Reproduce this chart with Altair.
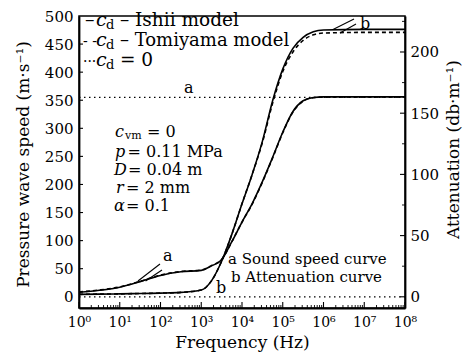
import json
import altair as alt
import pandas as pd

FONT = "DejaVu Serif"

# ---------------- data ----------------
freq = [1, 3.162, 10, 31.62, 100, 316.2, 1000, 1778, 3162, 5623, 10000, 17780,
        31620, 56230, 100000, 177800, 316200, 562300, 1000000, 10000000, 100000000]
speed_ishii = [8, 11.5, 17, 27, 38, 44.5, 47, 55, 66, 98, 133, 166, 205, 248, 293,
               330, 349, 355, 356, 356, 356]
speed_tomiyama = [8.5, 12, 17.5, 27.5, 38.5, 45, 47.5, 55.5, 66.5, 98, 133, 165, 204,
                  247, 292, 329, 348.5, 354.5, 355.5, 356, 356]
att_ishii = [2.0, 2.2, 2.4, 2.7, 3.0, 3.6, 5.5, 13, 29, 51, 76, 100, 127, 160, 186,
             203, 212, 216.5, 218, 218.5, 218.5]
att_tomiyama = [2.0, 2.2, 2.4, 2.7, 3.0, 3.6, 5.5, 13, 29, 51, 76, 100, 126, 158, 184,
                200, 209.5, 214, 215.5, 216, 216]
cd0_freq = [1, 100000000]
cd0_speed = [355, 355]
cd0_att = [0, 0]

x_tick_values = [1, 10, 100, 1000, 10000, 100000, 1000000, 10000000, 100000000]
x_tick_labels = ["10⁰", "10¹", "10²", "10³", "10⁴", "10⁵", "10⁶", "10⁷", "10⁸"]
x_minor_ticks = [m * 10 ** d for d in range(8) for m in range(2, 10)]
y_left_ticks = [0, 50, 100, 150, 200, 250, 300, 350, 400, 450, 500]
y_right_ticks = [0, 50, 100, 150, 200]
y_right_minor = [25, 75, 125, 175, 225]

# annotation texts (anchor in data units: frequency, speed)
ann_text = ["–", "– Ishii model", "- -", "– Tomiyama model", "···", "= 0",
            "d", "d", "d",
            "vm", "= 0", "= 0.11 MPa", "= 0.04 m", "= 2 mm", "= 0.1",
            "a", "a", "b", "b", "a Sound speed curve", "b Attenuation curve"]
ann_f = [1.40, 10.1, 1.25, 10.1, 1.25, 10.1,
         4.60, 4.60, 4.60,
         13.5, 46.6, 15.5, 15.9, 14.2, 14.2,
         377, 115, 2301, 7.87e6, 4530, 5370]
ann_v = [482.3, 482.3, 446.7, 446.7, 411.0, 411.0,
         476.9, 441.3, 405.7,
         281.0, 284.5, 249.0, 216.9, 184.9, 152.8,
         363.0, 63.8, 6.8, 476.9, 58.3, 25.9]
ann_size = [19, 18.5, 14, 18, 14, 18.5,
            13, 13, 13,
            11, 16, 16, 16, 16, 16,
            16, 16, 16, 16, 15, 15]

ital_text = ["c", "c", "c", "c", "p", "D", "r", "α"]
ital_f = [2.61, 2.61, 2.61, 7.65, 7.65, 7.23, 8.09, 7.23]
ital_v = [482.3, 446.7, 411.0, 284.5, 249.0, 216.9, 184.9, 152.8]
ital_size = [19, 19, 19, 16, 16, 16, 16, 16]

lead_f = [28.0, 43.0, 1.71e6, 2.54e6]
lead_v = [28.1, 28.1, 476.0, 469.8]
lead_f2 = [97.2, 108.8, 5.6e6, 6.28e6]
lead_v2 = [58.4, 47.7, 494.7, 485.8]

# ---------------- scales / axes ----------------
label_expr = json.dumps(x_tick_labels, ensure_ascii=False) + "[round(log(datum.value)/LN10)]"
common_axis = dict(ticks=False, grid=False, labelFont=FONT, labelColor="black",
                   domainColor="black", domainWidth=1.8, titleFont=FONT,
                   titleFontWeight="normal", titleColor="black", labelOverlap=False)

xscale = alt.Scale(type="log", domain=[1, 1e8], nice=False)
xaxis = alt.Axis(values=x_tick_values, labelExpr=label_expr, title="Frequency (Hz)",
                 labelFontSize=14, labelPadding=7, labelFlush=False,
                 titleFontSize=17, titleX=163, titleY=39, titleBaseline="alphabetic",
                 titleAlign="center", **common_axis)
yl_scale = alt.Scale(domain=[-20, 500], nice=False, zero=False)
yl_axis = alt.Axis(values=y_left_ticks, title="Pressure wave speed (m·s⁻¹)", orient="left",
                   labelFontSize=15, labelPadding=6, titleFontSize=17, titleAngle=270,
                   titleX=-51, titleY=148, titleBaseline="alphabetic", titleAlign="center",
                   **common_axis)
yr_scale = alt.Scale(domain=[-9.15, 229.4], nice=False, zero=False)
yr_axis = alt.Axis(values=y_right_ticks, title="Attenuation (db·m⁻¹)", orient="right",
                   labelFontSize=15, labelPadding=5, titleFontSize=17, titleAngle=270,
                   titleX=53, titleY=133, titleBaseline="alphabetic", titleAlign="center",
                   **common_axis)

X = alt.X("f:Q", scale=xscale, axis=xaxis)


def YL(field):
    return alt.Y(f"{field}:Q", scale=yl_scale, axis=yl_axis)


def YR(field):
    return alt.Y(f"{field}:Q", scale=yr_scale, axis=yr_axis)


curves = pd.DataFrame({"f": freq, "si": speed_ishii, "st": speed_tomiyama,
                       "ai": att_ishii, "at": att_tomiyama})
cd0 = pd.DataFrame({"f": cd0_freq, "v": cd0_speed, "db": cd0_att})
ann = pd.DataFrame({"t": ann_text, "f": ann_f, "v": ann_v, "s": ann_size})
ital = pd.DataFrame({"t": ital_text, "f": ital_f, "v": ital_v, "s": ital_size})
lead = pd.DataFrame({"f": lead_f, "v": lead_v, "f2": lead_f2, "v2": lead_v2})
xmaj = pd.DataFrame({"f": x_tick_values})
xmin = pd.DataFrame({"f": x_minor_ticks})
ylt = pd.DataFrame({"v": y_left_ticks[1:-1]})
yrt = pd.DataFrame({"db": y_right_ticks})
yrm = pd.DataFrame({"db": y_right_minor})

LW = 1.6
# ---- left (speed) group ----
sp_dot = alt.Chart(cd0).mark_line(color="black", strokeWidth=1.3, strokeDash=[1.5, 3.5]).encode(x=X, y=YL("v"))
sp_solid = alt.Chart(curves).mark_line(color="black", strokeWidth=LW, interpolate="monotone").encode(x=X, y=YL("si"))
sp_dash = alt.Chart(curves).mark_line(color="black", strokeWidth=LW, interpolate="monotone", strokeDash=[4, 3]).encode(x=X, y=YL("st"))
leaders = alt.Chart(lead).mark_rule(color="black", strokeWidth=1.1).encode(x=X, x2="f2:Q", y=YL("v"), y2="v2:Q")
txt = alt.Chart(ann).mark_text(font=FONT, align="left", baseline="alphabetic", color="black").encode(
    x=X, y=YL("v"), text="t:N", size=alt.Size("s:Q", scale=None, legend=None))
txt_i = alt.Chart(ital).mark_text(font=FONT, fontStyle="italic", align="left", baseline="alphabetic", color="black").encode(
    x=X, y=YL("v"), text="t:N", size=alt.Size("s:Q", scale=None, legend=None))
xt_major = alt.Chart(xmaj).mark_rule(color="black", strokeWidth=1.1).encode(x=X, y=alt.value(292), y2=alt.value(286))
xt_minor = alt.Chart(xmin).mark_rule(color="black", strokeWidth=0.9).encode(x=X, y=alt.value(292), y2=alt.value(289))
yl_ticks = alt.Chart(ylt).mark_rule(color="black", strokeWidth=1.1).encode(y=YL("v"), x=alt.value(0), x2=alt.value(4))

left = alt.layer(sp_dot, sp_solid, sp_dash, leaders, txt, txt_i, xt_major, xt_minor, yl_ticks)

# ---- right (attenuation) group ----
at_dot = alt.Chart(cd0).mark_line(color="black", strokeWidth=1.3, strokeDash=[1.5, 3.5]).encode(x=X, y=YR("db"))
at_solid = alt.Chart(curves).mark_line(color="black", strokeWidth=LW, interpolate="monotone").encode(x=X, y=YR("ai"))
at_dash = alt.Chart(curves).mark_line(color="black", strokeWidth=LW, interpolate="monotone", strokeDash=[4, 3]).encode(x=X, y=YR("at"))
yr_ticks = alt.Chart(yrt).mark_rule(color="black", strokeWidth=1.1).encode(y=YR("db"), x=alt.value(326), x2=alt.value(321))
yr_mticks = alt.Chart(yrm).mark_rule(color="black", strokeWidth=0.9).encode(y=YR("db"), x=alt.value(326), x2=alt.value(323))

right = alt.layer(at_dot, at_solid, at_dash, yr_ticks, yr_mticks)

chart = alt.layer(left, right).resolve_scale(y="independent").properties(
    width=326, height=292,
    padding={"left": 79, "top": 16, "right": 58, "bottom": 51},
    autosize=alt.AutoSizeParams(type="none"),
    background="white",
).configure_view(stroke="black", strokeWidth=1.5)

chart.save("out.html", embed_options={"renderer": "svg", "actions": False})
